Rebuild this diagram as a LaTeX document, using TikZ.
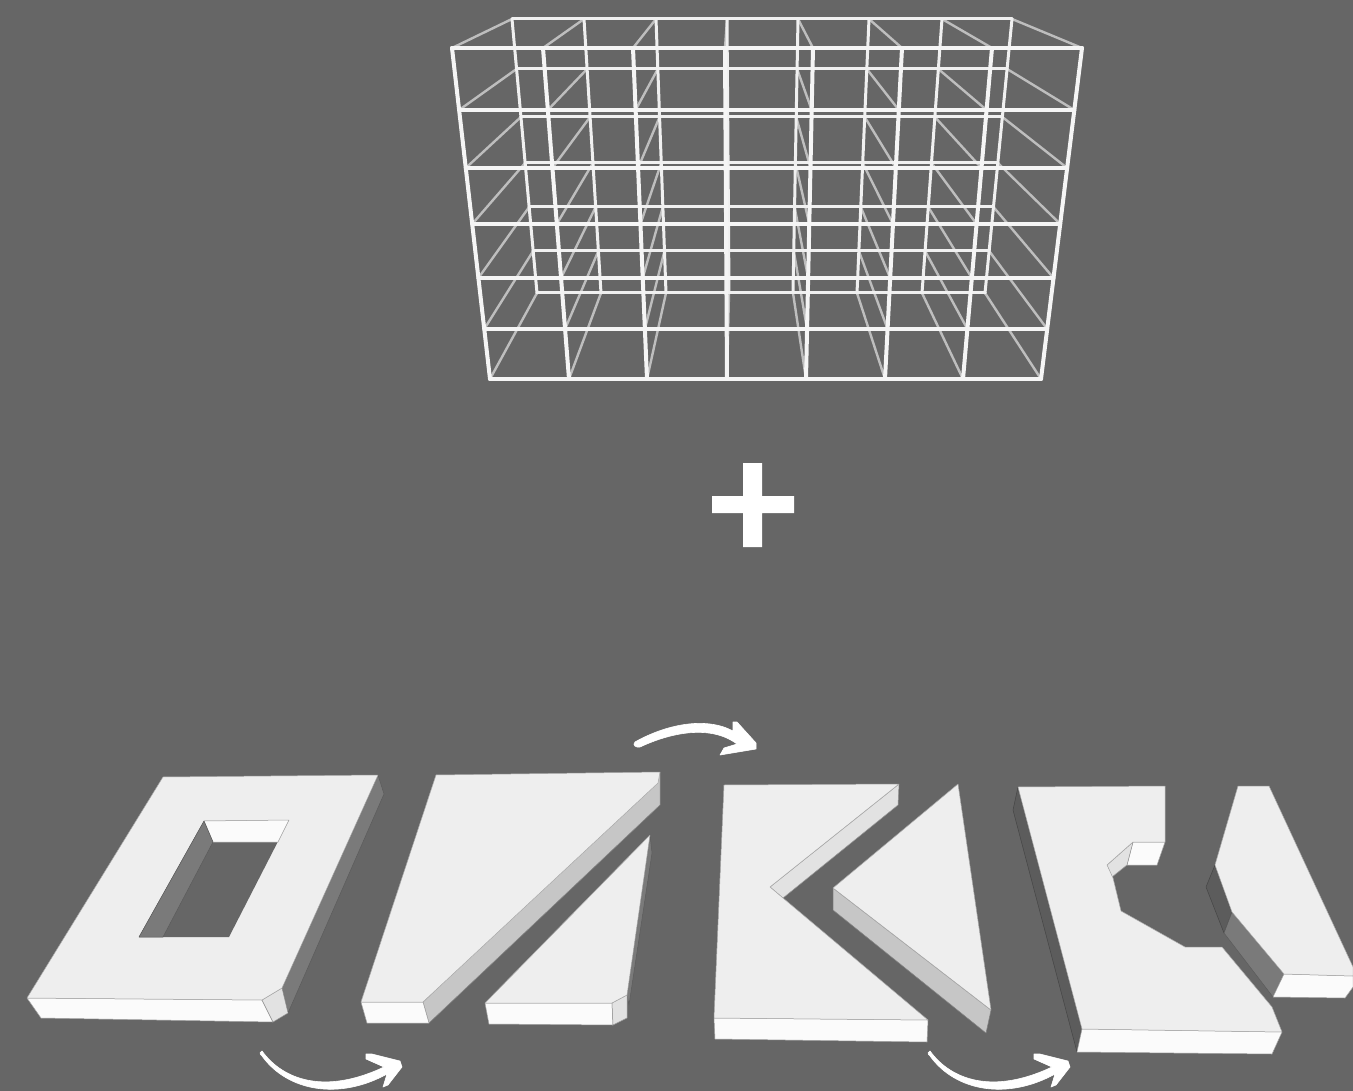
\documentclass[tikz,border=0pt]{standalone}
\usetikzlibrary{calc}
\definecolor{bgc}{HTML}{666666}
\definecolor{topc}{HTML}{EEEEEE}
\definecolor{frontc}{HTML}{FBFBFB}
\definecolor{darkc}{HTML}{7A7A7A}
\definecolor{darkerc}{HTML}{5C5C5C}
\definecolor{midc}{HTML}{C6C6C6}
\definecolor{lightc}{HTML}{E2E2E2}
\definecolor{depthc}{HTML}{BEBEBE}
\tikzset{
  facetop/.style={fill=topc,draw=topc!70!black,line width=0.5pt,line join=round},
  facefront/.style={fill=frontc,draw=frontc!65!black,line width=0.5pt,line join=round},
  facedark/.style={fill=darkc,draw=darkc!75!black,line width=0.5pt,line join=round},
  facedarker/.style={fill=darkerc,draw=darkerc!75!black,line width=0.5pt,line join=round},
  facemid/.style={fill=midc,draw=midc!65!black,line width=0.5pt,line join=round},
  facelight/.style={fill=lightc,draw=lightc!65!black,line width=0.5pt,line join=round},
  gridfront/.style={draw=white!96!black,line width=4pt,line cap=round},
  gridback/.style={draw=white!94!black,line width=3pt,line cap=round},
  griddepth/.style={draw=depthc,line width=2.4pt},
  swoosh/.style={fill=white,draw=white,line width=0.6pt,line join=round},
}
\begin{document}
\begin{tikzpicture}[x=1pt,y=-1pt]
\fill[bgc] (0,0) rectangle (1353,1091);
\useasboundingbox (0,0) rectangle (1353,1091);

% ---- wire frame -----
\foreach \i/\a/\b in {0/452/490,1/543/569,2/633/647,3/725/727,4/813/806,5/902/885,6/992/963,7/1082/1041}{
  \coordinate (ft\i) at (\a,48);
  \coordinate (fb\i) at (\b,379);
}
\foreach \i/\a/\b in {0/512/537,1/584/601,2/656/666,3/727/729,4/798/793,5/869/857,6/942/922,7/1012/985}{
  \coordinate (bt\i) at (\a,19);
  \coordinate (bb\i) at (\b,293);
}
% depth lines
\foreach \fy/\by in {48/19,110/69,168/117,224/163,278/207,329/251,379/293}{
  \pgfmathsetmacro\tf{(\fy-48)/331}
  \pgfmathsetmacro\tb{(\by-19)/274}
  \foreach \i in {0,...,7}{
    \draw[griddepth] ($(bt\i)!\tb!(bb\i)$) -- ($(ft\i)!\tf!(fb\i)$);
  }
}
% back frame
\foreach \by in {19,69,117,163,207,251,293}{
  \pgfmathsetmacro\tb{(\by-19)/274}
  \draw[gridback] ($(bt0)!\tb!(bb0)$) -- ($(bt7)!\tb!(bb7)$);
}
\foreach \i in {0,...,7}{ \draw[gridback] (bt\i) -- (bb\i); }
% front frame
\foreach \fy in {48,110,168,224,278,329,379}{
  \pgfmathsetmacro\tf{(\fy-48)/331}
  \draw[gridfront] ($(ft0)!\tf!(fb0)$) -- ($(ft7)!\tf!(fb7)$);
}
\foreach \i in {0,...,7}{ \draw[gridfront] (ft\i) -- (fb\i); }

% ---- plus -----
\fill[white] (743,463) -- (762,463) -- (762,496) -- (794,496) -- (794,513) -- (762,513)
  -- (762,547) -- (743,547) -- (743,513) -- (712,513) -- (712,496) -- (743,496) -- cycle;

% ---- piece 1: frame with hole -----
\draw[facedark] (378,775) -- (384,794) -- (288,1013) -- (282,988) -- cycle;
\draw[facefront] (27,998) -- (262,1000) -- (273,1022) -- (41,1018) -- cycle;
\draw[facelight] (262,1000) -- (282,988) -- (288,1013) -- (273,1022) -- cycle;
\draw[facetop] (163,777) -- (378,775) -- (282,988) -- (262,1000) -- (27,998) -- cycle;
\fill[bgc] (204,821) -- (289,820) -- (229,937) -- (139,937) -- cycle;
\draw[facefront] (204,821) -- (289,820) -- (278,842) -- (213,842) -- cycle;
\draw[facedark] (204,821) -- (213,842) -- (163,937) -- (139,937) -- cycle;

% ---- piece 2 -----
\draw[facemid] (660,772) -- (660,805) -- (429,1023) -- (423,1002) -- cycle;
\draw[facefront] (361,1002) -- (423,1002) -- (429,1023) -- (367,1023) -- cycle;
\draw[facetop] (436,775) -- (660,772) -- (658,783) -- (423,1002) -- (361,1002) -- cycle;

% ---- piece 3 -----
\draw[facedark] (650,835) -- (652,853) -- (629,1005) -- (627,995) -- cycle;
\draw[facefront] (485,1003) -- (612,1003) -- (613,1025) -- (489,1024) -- cycle;
\draw[facelight] (612,1003) -- (627,995) -- (627,1018) -- (613,1025) -- cycle;
\draw[facetop] (650,835) -- (627,995) -- (612,1003) -- (485,1003) -- cycle;

% ---- piece 4 -----
\draw[facelight] (899,784) -- (898,805) -- (783,898) -- (770,887) -- cycle;
\draw[facefront] (714,1018) -- (928,1020) -- (927,1042) -- (715,1039) -- cycle;
\draw[facetop] (724,785) -- (899,784) -- (770,887) -- (783,898) -- (928,1020) -- (714,1018) -- cycle;

% ---- piece 5 -----
\draw[facemid] (833,888) -- (991,1010) -- (986,1033) -- (833,910) -- cycle;
\draw[facetop] (958,784) -- (991,1010) -- (833,888) -- cycle;

% ---- piece 6 -----
\draw[facedarker] (1018,787) -- (1013,810) -- (1077,1052) -- (1082,1029) -- cycle;
\draw[facefront] (1082,1029) -- (1282,1032) -- (1272,1054) -- (1077,1052) -- cycle;
\draw[facefront] (1133,842) -- (1165,842) -- (1157,865) -- (1127,865) -- cycle;
\draw[facelight] (1133,842) -- (1127,865) -- (1112,877) -- (1107,865) -- cycle;
\draw[facetop] (1018,787) -- (1165,786) -- (1165,842) -- (1133,842) -- (1107,865) -- (1113,878)
  -- (1121,911) -- (1185,947) -- (1222,947) -- (1272,1007) -- (1282,1032) -- (1082,1029) -- cycle;

% ---- piece 7 -----
\draw[facedarker] (1215,865) -- (1206,887) -- (1224,933) -- (1232,912) -- cycle;
\draw[facedark] (1232,912) -- (1224,933) -- (1273,997) -- (1284,974) -- cycle;
\draw[facefront] (1284,974) -- (1353,976) -- (1353,987) -- (1345,998) -- (1273,997) -- cycle;
\draw[facetop] (1238,786) -- (1269,786) -- (1353,967) -- (1353,976) -- (1284,974) -- (1232,912) -- (1215,865) -- cycle;

% ---- arrows -----
\path[swoosh] (635,742) .. controls (665,725) and (705,716) .. (733,731)
  -- (733,722) -- (737,722) -- (756,743) -- (756,749) -- (720,755) -- (724,748) -- (737,744)
  .. controls (710,724) and (670,733) .. (640,747) .. controls (636,748) and (632,745) .. (635,742) -- cycle;

\foreach \dx in {0,668}{
  \path[swoosh,shift={(\dx,0)}] (262,1051) .. controls (283,1080) and (325,1095) .. (384,1067)
    -- (366,1059) -- (366,1054) -- (372,1054) -- (400,1061) -- (402,1067) -- (388,1085) -- (383,1087) -- (387,1074)
    .. controls (340,1100) and (288,1092) .. (262,1056) .. controls (259,1054) and (260,1051) .. (262,1051) -- cycle;
}
\end{tikzpicture}
\end{document}
